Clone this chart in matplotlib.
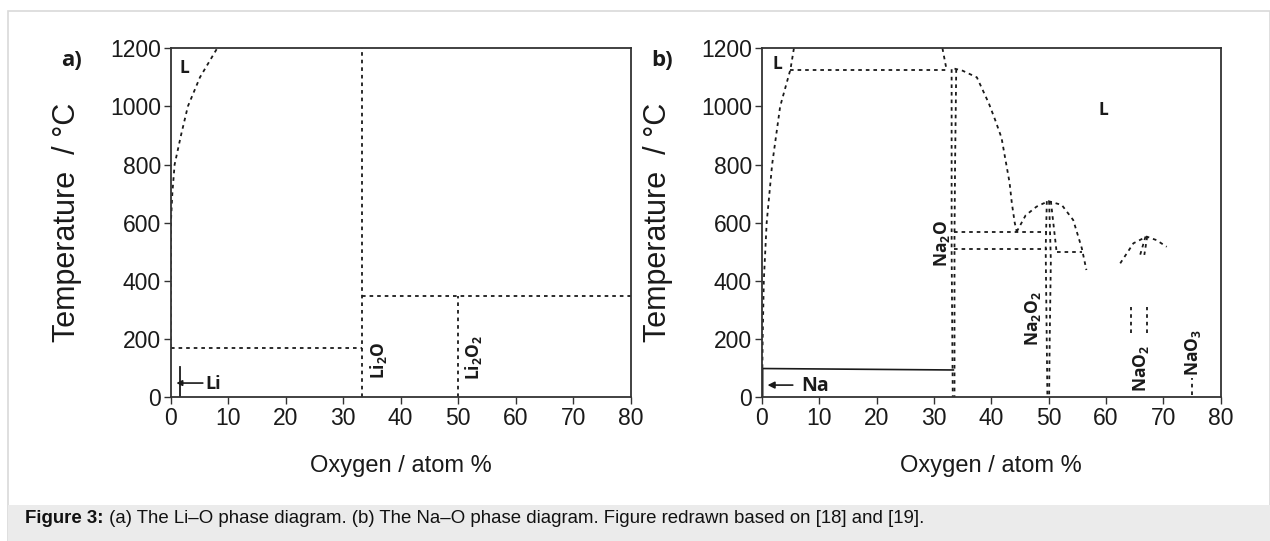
import matplotlib
matplotlib.use("Agg")
import matplotlib.pyplot as plt

plt.rcParams['font.family'] = ['Liberation Sans', 'DejaVu Sans']
plt.rcParams['mathtext.fontset'] = 'custom'
plt.rcParams['mathtext.bf'] = 'Open Sans:bold'
plt.rcParams['mathtext.rm'] = 'Open Sans'

# ---- Li-O data (oxygen at.% , temperature C) ----
li_liq_x = [0.0, 0.05, 0.3, 0.7, 1.8, 3.0, 5.1, 8.1]
li_liq_y = [170, 600, 700, 800, 900, 1000, 1100, 1200]
li2o_x = 33.3
li2o2_x = 50.0
li_eutectic_T = 168
li2o2_decomp_T = 348
li_marker_x = 1.63
li_marker_T = 48

# ---- Na-O data ----
na_liq_x = [0.1, 0.15, 0.35, 0.85, 1.8, 3.2, 5.0, 5.6]
na_liq_y = [100, 200, 400, 600, 800, 1000, 1128, 1200]
na_mono_T = 1127
na_mono_x = [5.0, 32.2]
na_upper_x = [31.5, 32.2]
na_upper_y = [1200, 1128]
na2o_liq_x = [33.6, 35.0, 37.5, 39.6, 40.7, 41.8, 43.2, 43.6, 44.1, 44.45]
na2o_liq_y = [1130, 1123, 1100, 1010, 953, 892, 738, 667, 600, 569]
na2o_a_x = [33.1, 33.1, 33.3]
na2o_a_y = [1128, 500, 0]
na2o_b_x = [33.9, 33.7, 33.6, 33.6]
na2o_b_y = [1128, 800, 560, 0]
na_h1_T = 567
na_h2_T = 510
na_h_x = [33.6, 49.7]
dome1_x = [44.45, 46.0, 47.9, 49.96, 52.3, 54.3, 55.8, 56.6]
dome1_y = [569, 625, 655, 674, 661, 609, 512, 437]
na2o2_a_x = [49.7, 49.5, 49.8]
na2o2_a_y = [674, 509, 0]
na2o2_b_x = [50.1, 50.4, 50.2, 50.1]
na2o2_b_y = [674, 470, 200, 0]
na2o2_c_x = [50.4, 51.4]
na2o2_c_y = [674, 500]
na_h3_T = 500
na_h3_x = [51.4, 55.8]
dome2_x = [62.5, 64.8, 67.1, 68.8, 70.6]
dome2_y = [460, 529, 552, 540, 517]
nao2_leg1_x = [66.9, 65.8]
nao2_leg1_y = [552, 477]
nao2_leg2_x = [67.2, 66.7]
nao2_leg2_y = [552, 489]
nao2_x = [64.4, 67.1]
nao2_T = [220, 311]
nao3_x = 75.1
nao3_T = [7, 65]
na_solid_x = [0.15, 0.15, 33.4]
na_solid_y = [0, 98, 93]

xticks = [0, 10, 20, 30, 40, 50, 60, 70, 80]
yticks = [0, 200, 400, 600, 800, 1000, 1200]

INK = '#1a1a1a'
DOT = dict(color=INK, lw=1.3, linestyle=(0, (2.0, 2.2)))
LBL = dict(family=['Open Sans', 'DejaVu Sans'], fontweight='bold', color=INK)

fig = plt.figure(figsize=(12.7, 5.41), dpi=100)

# outer light border and caption band
fig.patches.append(plt.Rectangle((8 / 1270, 0), 1 - 8 / 1270, 1 - 11 / 541,
                                 transform=fig.transFigure, fill=False,
                                 edgecolor='#d9d9d9', lw=1.2))
fig.patches.append(plt.Rectangle((8 / 1270, 0), 1, 36 / 541,
                                 transform=fig.transFigure, facecolor='#ebebeb',
                                 edgecolor='none'))


def style_axes(ax):
    ax.set_xlim(0, 80)
    ax.set_ylim(0, 1200)
    ax.set_xticks(xticks)
    ax.set_yticks(yticks)
    ax.tick_params(direction='out', length=5, width=1, labelsize=16.5,
                   colors='#333333', labelcolor='#1a1a1a', pad=2)
    for s in ax.spines.values():
        s.set_color('#333333')
        s.set_linewidth(1.3)
    ax.set_xlabel('Oxygen / atom %', fontsize=17, labelpad=18, color='#1a1a1a')
    ax.set_ylabel('Temperature  / °C', fontsize=22, labelpad=20, color='#1a1a1a')


# ---------------- panel a ----------------
axa = fig.add_axes([170.6 / 1270, 144 / 541, 460 / 1270, 348.7 / 541])
style_axes(axa)
axa.plot(li_liq_x, li_liq_y, **DOT)
axa.plot([li2o_x, li2o_x], [0, 1200], **DOT)
axa.plot([0, li2o_x], [li_eutectic_T, li_eutectic_T], **DOT)
axa.plot([li2o_x, 80], [li2o2_decomp_T, li2o2_decomp_T], **DOT)
axa.plot([li2o2_x, li2o2_x], [0, li2o2_decomp_T], **DOT)
axa.plot([li_marker_x, li_marker_x], [0, 103], color=INK, lw=1.3)
axa.annotate('', xy=(1.0, li_marker_T), xytext=(5.6, li_marker_T),
             arrowprops=dict(arrowstyle='-|>', color=INK, lw=1.2,
                             mutation_scale=8, shrinkA=0, shrinkB=0))
axa.text(6.0, li_marker_T - 3, 'Li', fontsize=13, ha='left', va='center', **LBL)
axa.text(1.6, 1132, 'L', fontsize=12.5, ha='left', va='center', **LBL)
axa.text(36.1, 127, r'$\mathbf{Li_2O}$', fontsize=12.5, rotation=90,
         ha='center', va='center', color=INK)
axa.text(52.6, 138, r'$\mathbf{Li_2O_2}$', fontsize=12.5, rotation=90,
         ha='center', va='center', color=INK)
fig.text(72 / 1270, 1 - 61 / 541, 'a)', fontsize=16, ha='center', va='center', **LBL)

# ---------------- panel b ----------------
axb = fig.add_axes([761.8 / 1270, 144 / 541, 458.8 / 1270, 348.7 / 541])
style_axes(axb)
axb.plot(na_liq_x, na_liq_y, **DOT)
axb.plot(na_mono_x, [na_mono_T, na_mono_T], **DOT)
axb.plot(na_upper_x, na_upper_y, **DOT)
axb.plot(na2o_liq_x, na2o_liq_y, **DOT)
axb.plot(na2o_a_x, na2o_a_y, **DOT)
axb.plot(na2o_b_x, na2o_b_y, **DOT)
axb.plot(na_h_x, [na_h1_T, na_h1_T], **DOT)
axb.plot(na_h_x, [na_h2_T, na_h2_T], **DOT)
axb.plot(dome1_x, dome1_y, **DOT)
axb.plot(na2o2_a_x, na2o2_a_y, **DOT)
axb.plot(na2o2_b_x, na2o2_b_y, **DOT)
axb.plot(na2o2_c_x, na2o2_c_y, **DOT)
axb.plot(na_h3_x, [na_h3_T, na_h3_T], **DOT)
axb.plot(dome2_x, dome2_y, **DOT)
axb.plot(nao2_leg1_x, nao2_leg1_y, **DOT)
axb.plot(nao2_leg2_x, nao2_leg2_y, **DOT)
for xv in nao2_x:
    axb.plot([xv, xv], nao2_T, **DOT)
axb.plot([nao3_x, nao3_x], nao3_T, **DOT)
axb.plot(na_solid_x, na_solid_y, color=INK, lw=1.2)
axb.annotate('', xy=(1.0, 41), xytext=(5.4, 41),
             arrowprops=dict(arrowstyle='-|>', color=INK, lw=1.2,
                             mutation_scale=10, shrinkA=0, shrinkB=0))
axb.text(6.9, 38, 'Na', fontsize=14, ha='left', va='center', **LBL)
axb.text(1.8, 1146, 'L', fontsize=12.5, ha='left', va='center', **LBL)
axb.text(59.6, 989, 'L', fontsize=12.5, ha='center', va='center', **LBL)
axb.text(31.4, 528, r'$\mathbf{Na_2O}$', fontsize=12.5, rotation=90,
         ha='center', va='center', color=INK)
axb.text(47.3, 270, r'$\mathbf{Na_2O_2}$', fontsize=12.5, rotation=90,
         ha='center', va='center', color=INK)
axb.text(66.2, 100, r'$\mathbf{NaO_2}$', fontsize=12.5, rotation=90,
         ha='center', va='center', color=INK)
axb.text(75.2, 153, r'$\mathbf{NaO_3}$', fontsize=12.5, rotation=90,
         ha='center', va='center', color=INK)
fig.text(662 / 1270, 1 - 61 / 541, 'b)', fontsize=16, ha='center', va='center', **LBL)

# ---------------- caption ----------------
cap_y = 1 - 523 / 541
cap = fig.text(25 / 1270, cap_y, 'Figure 3:', fontsize=13.4,
               fontweight='bold', ha='left', va='baseline', color='#111111')
fig.canvas.draw()
bb = cap.get_window_extent(fig.canvas.get_renderer())
fig.text(bb.x1 / fig.bbox.width, cap_y,
         ' (a) The Li–O phase diagram. (b) The Na–O phase diagram. '
         'Figure redrawn based on [18] and [19].',
         fontsize=13.4, ha='left', va='baseline', color='#111111')

fig.savefig('out.png', dpi=100)
